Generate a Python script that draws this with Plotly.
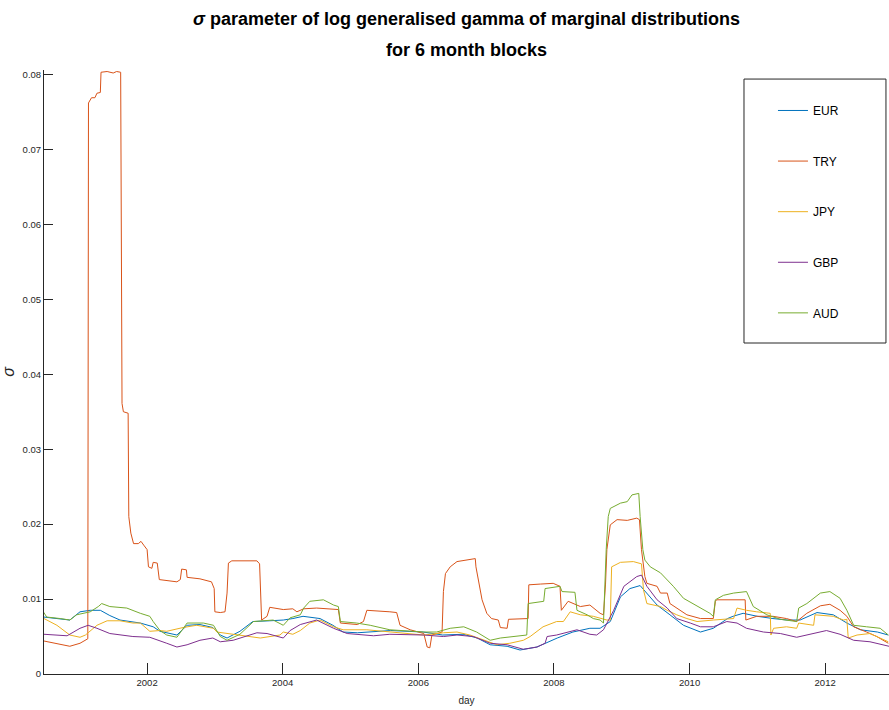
import pandas as pd
import plotly.graph_objects as go

# ---- data (x in decimal years, y = sigma) ----
EUR_T = [2000.48, 2000.72, 2000.86, 2001.01, 2001.16, 2001.31, 2001.45, 2001.60, 2001.79, 2001.90,
         2002.09, 2002.19, 2002.44, 2002.59, 2002.78, 2002.97, 2003.08, 2003.18, 2003.37, 2003.56,
         2003.81, 2004.01, 2004.15, 2004.30, 2004.55, 2004.74, 2004.89, 2005.10, 2005.59, 2006.07,
         2006.36, 2006.66, 2006.87, 2007.06, 2007.31, 2007.50, 2007.75, 2008.05, 2008.28, 2008.53,
         2008.68, 2008.83, 2008.98, 2009.12, 2009.27, 2009.37, 2009.52, 2009.71, 2009.91, 2010.16,
         2010.35, 2010.56, 2010.64, 2010.79, 2011.00, 2011.23, 2011.44, 2011.63, 2011.88, 2012.12,
         2012.32, 2012.52, 2012.77, 2012.93]
EUR_V = [0.0076, 0.0073, 0.0072, 0.0083, 0.0085, 0.0085, 0.0078, 0.0072, 0.0070, 0.0068,
         0.0063, 0.0057, 0.0052, 0.0065, 0.0066, 0.0062, 0.0052, 0.0048, 0.0057, 0.0070,
         0.0071, 0.0072, 0.0074, 0.0077, 0.0074, 0.0065, 0.0056, 0.0055, 0.0058, 0.0056,
         0.0052, 0.0053, 0.0048, 0.0039, 0.0037, 0.0032, 0.0036, 0.0048, 0.0056, 0.0061,
         0.0061, 0.0070, 0.0103, 0.0114, 0.0118, 0.0108, 0.0092, 0.0079, 0.0065, 0.0056,
         0.0061, 0.0074, 0.0077, 0.0081, 0.0077, 0.0074, 0.0072, 0.0072, 0.0082, 0.0079,
         0.0068, 0.0059, 0.0056, 0.0052]

TRY_T = [2000.48, 2000.67, 2000.86, 2001.01, 2001.10, 2001.125, 2001.135, 2001.18, 2001.23, 2001.26,
         2001.31, 2001.32, 2001.41, 2001.50, 2001.55, 2001.61, 2001.63, 2001.65, 2001.72, 2001.73,
         2001.76, 2001.80, 2001.87, 2001.91, 2001.95, 2002.00, 2002.02, 2002.07, 2002.09, 2002.15,
         2002.18, 2002.29, 2002.44, 2002.49, 2002.51, 2002.58, 2002.59, 2002.78, 2002.88, 2002.95,
         2002.99, 2003.00, 2003.08, 2003.15, 2003.18, 2003.20, 2003.25, 2003.62, 2003.66, 2003.69,
         2003.77, 2003.81, 2004.01, 2004.15, 2004.21, 2004.31, 2004.50, 2004.75, 2004.82, 2004.85,
         2005.10, 2005.19, 2005.24, 2005.58, 2005.68, 2005.73, 2005.88, 2006.08, 2006.13, 2006.17,
         2006.20, 2006.35, 2006.37, 2006.40, 2006.47, 2006.57, 2006.72, 2006.84, 2006.85, 2006.89,
         2006.94, 2007.01, 2007.08, 2007.18, 2007.21, 2007.31, 2007.33, 2007.62, 2007.63, 2007.80,
         2007.99, 2008.09, 2008.11, 2008.21, 2008.29, 2008.39, 2008.53, 2008.63, 2008.68, 2008.73,
         2008.76, 2008.78, 2008.83, 2008.93, 2009.08, 2009.22, 2009.26, 2009.29, 2009.34, 2009.37,
         2009.52, 2009.57, 2009.67, 2009.71, 2009.86, 2009.96, 2010.16, 2010.35, 2010.38, 2010.40,
         2010.82, 2010.83, 2010.99, 2011.23, 2011.43, 2011.58, 2011.73, 2011.93, 2012.07, 2012.22,
         2012.32, 2012.42, 2012.61, 2012.76, 2012.93]
TRY_V = [0.0044, 0.0041, 0.0037, 0.0041, 0.0045, 0.0047, 0.0762, 0.0769, 0.0769, 0.0775,
         0.0776, 0.0803, 0.0804, 0.0802, 0.0804, 0.0803, 0.0361, 0.0350, 0.0348, 0.0210,
         0.0188, 0.0174, 0.0174, 0.0177, 0.0172, 0.0166, 0.0143, 0.0141, 0.0149, 0.0148,
         0.0126, 0.0125, 0.0123, 0.0126, 0.0140, 0.0139, 0.0129, 0.0127, 0.0125, 0.0123,
         0.0114, 0.0083, 0.0082, 0.0083, 0.0108, 0.0148, 0.0151, 0.0151, 0.0147, 0.0072,
         0.0077, 0.0089, 0.0086, 0.0087, 0.0083, 0.0087, 0.0088, 0.0087, 0.0086, 0.0068,
         0.0066, 0.0070, 0.0085, 0.0083, 0.0082, 0.0065, 0.0059, 0.0054, 0.0036, 0.0035,
         0.0052, 0.0056, 0.0110, 0.0134, 0.0143, 0.0150, 0.0152, 0.0154, 0.0143, 0.0121,
         0.0099, 0.0081, 0.0074, 0.0072, 0.0062, 0.0061, 0.0073, 0.0074, 0.0119, 0.0120,
         0.0121, 0.0117, 0.0085, 0.0097, 0.0094, 0.0090, 0.0092, 0.0085, 0.0081, 0.0079,
         0.0120, 0.0166, 0.0199, 0.0206, 0.0205, 0.0208, 0.0206, 0.0166, 0.0130, 0.0121,
         0.0117, 0.0108, 0.0108, 0.0094, 0.0085, 0.0079, 0.0074, 0.0074, 0.0097, 0.0099,
         0.0099, 0.0072, 0.0077, 0.0077, 0.0074, 0.0070, 0.0081, 0.0091, 0.0093, 0.0085,
         0.0077, 0.0063, 0.0056, 0.0050, 0.0041]

JPY_T = [2000.48, 2000.67, 2000.86, 2001.01, 2001.09, 2001.21, 2001.26, 2001.41, 2001.60, 2001.79,
         2001.90, 2002.04, 2002.19, 2002.29, 2002.53, 2002.73, 2002.88, 2002.98, 2003.03, 2003.18,
         2003.27, 2003.67, 2003.96, 2004.01, 2004.15, 2004.26, 2004.40, 2004.55, 2004.75, 2004.89,
         2005.24, 2005.58, 2006.08, 2006.37, 2006.57, 2006.76, 2006.96, 2007.16, 2007.35, 2007.55,
         2007.65, 2007.84, 2008.04, 2008.14, 2008.24, 2008.39, 2008.58, 2008.78, 2008.83, 2008.85,
         2008.98, 2009.17, 2009.29, 2009.32, 2009.37, 2009.47, 2009.57, 2009.67, 2009.81, 2009.96,
         2010.11, 2010.35, 2010.65, 2010.70, 2010.84, 2010.99, 2011.19, 2011.20, 2011.24, 2011.43,
         2011.58, 2011.61, 2011.83, 2011.85, 2012.12, 2012.27, 2012.32, 2012.34, 2012.47, 2012.66,
         2012.81, 2012.93]
JPY_V = [0.0074, 0.0065, 0.0052, 0.0049, 0.0052, 0.0061, 0.0065, 0.0071, 0.0071, 0.0068,
         0.0068, 0.0057, 0.0058, 0.0057, 0.0062, 0.0065, 0.0063, 0.0061, 0.0056, 0.0054,
         0.0053, 0.0048, 0.0052, 0.0056, 0.0053, 0.0058, 0.0068, 0.0072, 0.0063, 0.0059,
         0.0059, 0.0056, 0.0052, 0.0055, 0.0056, 0.0052, 0.0045, 0.0039, 0.0041, 0.0045,
         0.0050, 0.0063, 0.0070, 0.0070, 0.0083, 0.0079, 0.0077, 0.0072, 0.0072, 0.0143,
         0.0149, 0.0150, 0.0147, 0.0112, 0.0094, 0.0092, 0.0090, 0.0085, 0.0079, 0.0074,
         0.0070, 0.0072, 0.0074, 0.0088, 0.0085, 0.0083, 0.0081, 0.0052, 0.0061, 0.0063,
         0.0061, 0.0068, 0.0065, 0.0079, 0.0077, 0.0072, 0.0073, 0.0048, 0.0052, 0.0054,
         0.0048, 0.0043]

GBP_T = [2000.48, 2000.82, 2001.01, 2001.13, 2001.26, 2001.45, 2001.79, 2002.04, 2002.29, 2002.44,
         2002.59, 2002.78, 2002.97, 2003.08, 2003.27, 2003.62, 2003.77, 2004.01, 2004.11, 2004.26,
         2004.50, 2004.75, 2004.95, 2005.34, 2005.58, 2006.08, 2006.37, 2006.57, 2006.81, 2007.06,
         2007.31, 2007.55, 2007.75, 2007.87, 2007.90, 2008.04, 2008.34, 2008.53, 2008.63, 2008.73,
         2008.88, 2009.03, 2009.22, 2009.29, 2009.37, 2009.52, 2009.67, 2009.81, 2010.01, 2010.16,
         2010.35, 2010.55, 2010.70, 2010.84, 2011.09, 2011.34, 2011.58, 2011.83, 2012.02, 2012.22,
         2012.42, 2012.66, 2012.94]
GBP_V = [0.0053, 0.0051, 0.0061, 0.0065, 0.0061, 0.0054, 0.0050, 0.0049, 0.0041, 0.0036,
         0.0039, 0.0045, 0.0048, 0.0043, 0.0045, 0.0055, 0.0054, 0.0048, 0.0058, 0.0066,
         0.0072, 0.0061, 0.0054, 0.0051, 0.0053, 0.0052, 0.0050, 0.0052, 0.0050, 0.0041,
         0.0039, 0.0033, 0.0036, 0.0041, 0.0050, 0.0052, 0.0059, 0.0053, 0.0052, 0.0059,
         0.0085, 0.0117, 0.0130, 0.0132, 0.0117, 0.0099, 0.0088, 0.0074, 0.0068, 0.0063,
         0.0063, 0.0070, 0.0068, 0.0061, 0.0056, 0.0054, 0.0049, 0.0054, 0.0058, 0.0053,
         0.0045, 0.0043, 0.0037]

AUD_T = [2000.47, 2000.52, 2000.72, 2000.86, 2000.96, 2001.16, 2001.28, 2001.33, 2001.45, 2001.70,
         2001.90, 2002.04, 2002.09, 2002.19, 2002.29, 2002.44, 2002.59, 2002.83, 2002.98, 2003.08,
         2003.18, 2003.37, 2003.57, 2003.86, 2004.01, 2004.11, 2004.26, 2004.31, 2004.40, 2004.60,
         2004.75, 2004.82, 2004.85, 2005.09, 2005.29, 2005.58, 2006.08, 2006.27, 2006.47, 2006.67,
         2006.86, 2007.06, 2007.21, 2007.55, 2007.60, 2007.62, 2007.85, 2007.87, 2008.09, 2008.12,
         2008.31, 2008.34, 2008.49, 2008.58, 2008.68, 2008.73, 2008.77, 2008.80, 2008.83, 2008.98,
         2009.08, 2009.15, 2009.25, 2009.27, 2009.31, 2009.34, 2009.42, 2009.57, 2009.67, 2009.76,
         2009.91, 2010.16, 2010.30, 2010.35, 2010.38, 2010.50, 2010.65, 2010.84, 2010.94, 2011.14,
         2011.34, 2011.58, 2011.61, 2011.73, 2011.93, 2012.07, 2012.22, 2012.32, 2012.42, 2012.61,
         2012.81, 2012.93]
AUD_V = [0.0083, 0.0076, 0.0074, 0.0072, 0.0079, 0.0083, 0.0090, 0.0094, 0.0090, 0.0088,
         0.0081, 0.0077, 0.0070, 0.0058, 0.0052, 0.0049, 0.0068, 0.0068, 0.0065, 0.0050,
         0.0045, 0.0053, 0.0070, 0.0072, 0.0065, 0.0075, 0.0079, 0.0088, 0.0097, 0.0099,
         0.0092, 0.0090, 0.0070, 0.0068, 0.0065, 0.0059, 0.0056, 0.0056, 0.0061, 0.0063,
         0.0056, 0.0045, 0.0048, 0.0051, 0.0052, 0.0094, 0.0097, 0.0114, 0.0117, 0.0110,
         0.0109, 0.0085, 0.0079, 0.0074, 0.0072, 0.0068, 0.0166, 0.0210, 0.0221, 0.0228,
         0.0230, 0.0239, 0.0241, 0.0210, 0.0166, 0.0152, 0.0143, 0.0135, 0.0126, 0.0117,
         0.0101, 0.0088, 0.0081, 0.0077, 0.0099, 0.0105, 0.0108, 0.0110, 0.0090, 0.0079,
         0.0073, 0.0070, 0.0088, 0.0094, 0.0108, 0.0110, 0.0101, 0.0085, 0.0065, 0.0063,
         0.0061, 0.0052]

SERIES = ["EUR", "TRY", "JPY", "GBP", "AUD"]
COLORS = ["#0072BD", "#D95319", "#EDB120", "#7E2F8E", "#77AC30"]
X_RANGE = [2000.48, 2012.94]
Y_TICKS = [0, 0.01, 0.02, 0.03, 0.04, 0.05, 0.06, 0.07, 0.08]
Y_LABELS = ["0", "0.01", "0.02", "0.03", "0.04", "0.05", "0.06", "0.07", "0.08"]
X_TICK_YEARS = [2002, 2004, 2006, 2008, 2010, 2012]
TITLE_1 = "<i>σ</i> parameter of log generalised gamma of marginal distributions"
TITLE_2 = "for 6 month blocks"


def to_dt(y):
    yr = int(y)
    start = pd.Timestamp(yr, 1, 1)
    end = pd.Timestamp(yr + 1, 1, 1)
    return start + (end - start) * (y - yr)


data = {"EUR": (EUR_T, EUR_V), "TRY": (TRY_T, TRY_V), "JPY": (JPY_T, JPY_V),
        "GBP": (GBP_T, GBP_V), "AUD": (AUD_T, AUD_V)}

FONT = "Liberation Sans, Arial, sans-serif"
AX = "#262626"

fig = go.Figure()
for name, col in zip(SERIES, COLORS):
    t, v = data[name]
    fig.add_trace(go.Scatter(x=[to_dt(a) for a in t], y=v, mode="lines", name=name,
                             legendgroup=name, line=dict(color=col, width=1)))

fig.update_layout(
    width=889, height=710,
    margin=dict(l=44, r=0, t=70, b=36),
    paper_bgcolor="white", plot_bgcolor="white",
    font=dict(family=FONT, color=AX, size=10),
    title=dict(text=TITLE_1, x=0.5, xref="paper", xanchor="center",
               y=1 - 19 / 710, yref="container", yanchor="middle",
               font=dict(family=FONT, size=18, color="black", weight="bold")),
    annotations=[dict(text=TITLE_2, x=0.5, xref="paper", xanchor="center",
                      y=(674 - 50) / 604, yref="paper", yanchor="middle", showarrow=False,
                      font=dict(family=FONT, size=18, color="black", weight="bold"))],
    showlegend=True,
    legend=dict(x=0.8627, y=0.957, xanchor="left", yanchor="top", bgcolor="rgba(0,0,0,0)",
                borderwidth=0, tracegroupgap=31.6, font=dict(family=FONT, size=12, color="black")),
    shapes=[dict(type="rect", xref="paper", yref="paper", x0=0.8284, x1=0.9964, y0=0.548, y1=0.985,
                 line=dict(color=AX, width=1), fillcolor="rgba(0,0,0,0)", layer="above")],
)
fig.update_xaxes(range=[to_dt(X_RANGE[0]), to_dt(X_RANGE[1])],
                 tickvals=[pd.Timestamp(y, 1, 1) for y in X_TICK_YEARS],
                 ticktext=[str(y) for y in X_TICK_YEARS],
                 ticks="inside", ticklen=11, tickcolor=AX, tickwidth=1,
                 showline=True, linecolor=AX, linewidth=1, showgrid=False, zeroline=False,
                 tickfont=dict(size=9.5, color=AX),
                 title=dict(text="day", font=dict(size=10, color=AX), standoff=9))
fig.update_yaxes(range=[0, 0.0806], tickvals=Y_TICKS, ticktext=Y_LABELS,
                 ticks="inside", ticklen=9, tickcolor=AX, tickwidth=1,
                 showline=True, linecolor=AX, linewidth=1, showgrid=False, zeroline=False,
                 tickfont=dict(size=9.5, color=AX),
                 title=dict(text="<i>σ</i>", font=dict(size=16, color=AX), standoff=8))

fig.write_html("out.html", config={"displayModeBar": False},
               post_script="document.body.style.margin='0';document.body.style.overflow='hidden';")
